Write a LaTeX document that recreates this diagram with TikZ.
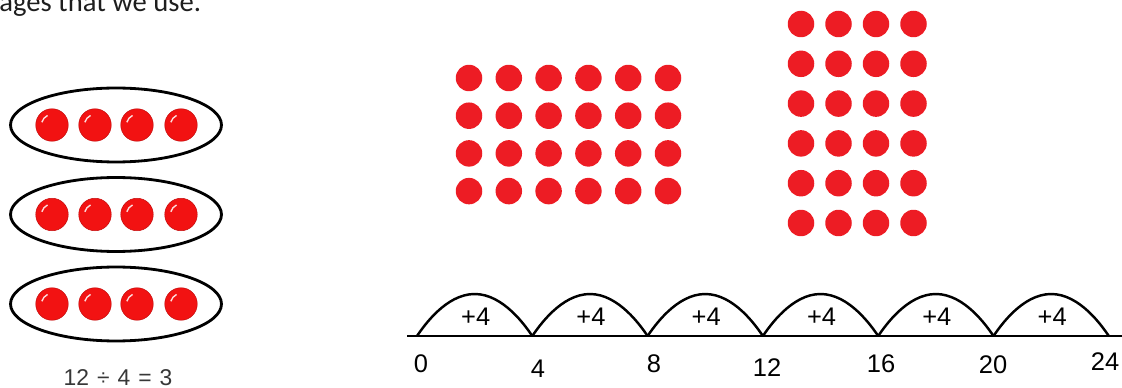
\documentclass[tikz,border=0pt]{standalone}
\usepackage{fontspec}
\setmainfont{Liberation Sans}
\newfontfamily\introfont{Carlito}
\usepackage{tikz}
\usetikzlibrary{shapes.geometric, positioning, calc}
\definecolor{dotred}{RGB}{237, 28, 36}
\definecolor{ballred}{RGB}{242, 18, 18}
\definecolor{balledge}{RGB}{196, 12, 12}
\definecolor{eqgray}{RGB}{55, 55, 55}
\definecolor{textdark}{RGB}{30, 30, 30}

\tikzset{
    dot/.style={circle, fill=dotred, minimum size=0.53cm, inner sep=0pt},
    ball/.style={circle, fill=ballred, draw=balledge, line width=0.3pt,
                 minimum size=0.65cm, inner sep=0pt,
                 path picture={\draw[white, opacity=0.85, line width=0.8pt]
                     ([shift={(115:0.21cm)}]path picture bounding box.center) arc (115:165:0.21cm);}},
    group/.style={ellipse, draw=black, line width=1.6pt, minimum width=4.22cm,
                  minimum height=1.48cm, inner sep=0pt},
    numline/.style={line width=1.6pt},
    hop/.style={line width=1.4pt, parabola height=0.84cm},
    hoplabel/.style={font=\fontsize{14.5}{17}\selectfont, inner sep=0pt},
    numlabel/.style={font=\fontsize{14.5}{17}\selectfont, inner sep=0pt}
}

\begin{document}
\begin{tikzpicture}[x=0.02cm, y=-0.02cm]
    \useasboundingbox (0,0) rectangle (1122,388);
    \clip (0,0) rectangle (1122,388);

    % cut-off line of text above the picture
    \node[anchor=base west, inner sep=0pt, text=textdark,
          font=\introfont\fontsize{16.3}{19}\selectfont] (intro) at (-1,11.5) {ages that we use.};

    % equal groups
    \foreach \g/\y in {1/125, 2/214.5, 3/304} {
        \node[group] (group\g) at (116,\y) {};
        \foreach \b/\x in {1/52, 2/95, 3/137, 4/181}
            \node[ball] (ball\g-\b) at (\x,\y) {};
    }
    \node[font=\fontsize{13}{15}\selectfont, text=eqgray] (equation) at (118,378)
        {12\hspace{0.35em}÷\hspace{0.35em}4\hspace{0.35em}=\hspace{0.35em}3};

    % array 4 rows x 6 columns
    \foreach \r in {0,...,3}
        \foreach \c in {0,...,5}
            \node[dot] (wide-\r-\c) at ({469+39.8*\c},{78+37.7*\r}) {};

    % array 6 rows x 4 columns
    \foreach \r in {0,...,5}
        \foreach \c in {0,...,3}
            \node[dot] (tall-\r-\c) at ({801+37.5*\c},{24+39.8*\r}) {};

    % number line
    \coordinate (lstart) at (407,336);
    \coordinate (lend) at (1122,336);
    \draw[numline] (lstart) -- (lend);
    \foreach \n [count=\i from 0] in {0,4,8,12,16,20,24}
        \coordinate (t\n) at ({417+115.3*\i},336);
    \foreach \a/\b in {0/4, 4/8, 8/12, 12/16, 16/20, 20/24} {
        \draw[hop] (t\a) parabola (t\b);
        \node[hoplabel] (hop\a) at ($(t\a)!0.5!(t\b)+(1,-19)$) {+4};
    }
    \foreach \n/\x/\y in {0/421/364, 4/538/369, 8/654/364, 12/767/368,
                          16/881/364, 20/993/365, 24/1105/362}
        \node[numlabel] (n\n) at (\x,\y) {\n};
\end{tikzpicture}
\end{document}
